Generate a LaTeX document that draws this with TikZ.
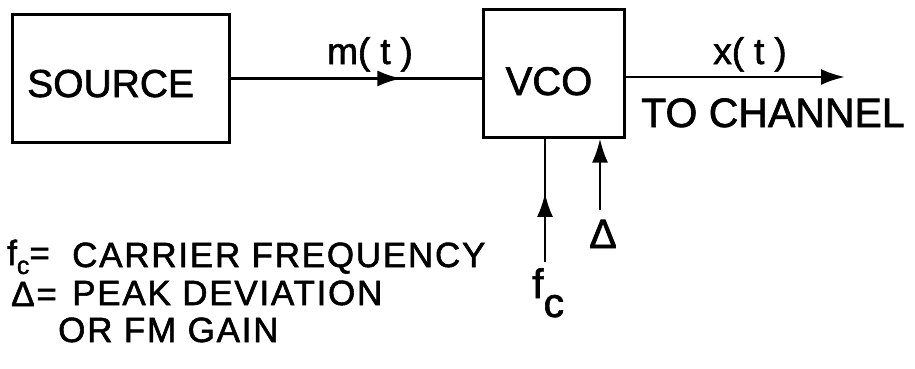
\documentclass[tikz,border=0pt]{standalone}
\usepackage{fontspec}
\setmainfont{Liberation Sans}[BoldFont=Liberation Sans, BoldFeatures={FakeBold=1.6}]
\usetikzlibrary{arrows.meta,decorations.markings}
\begin{document}
\begin{tikzpicture}[x=1pt,y=-1pt,
  box/.style={draw, line width=3pt, inner sep=0pt},
  wire/.style={line width=2.8pt},
  tipend/.style={-{Latex[length=24pt,width=16pt]}},
  midtip/.style={postaction={decorate},decoration={markings,mark=at position #1 with {\arrow{Latex[length=24pt,width=16pt]}}}},
  lbl/.style={inner sep=0pt, font=\bfseries\fontsize{37}{40}\selectfont},
  big/.style={inner sep=0pt, font=\bfseries\fontsize{41}{46}\selectfont},
  leg/.style={inner sep=0pt, anchor=base west, font=\bfseries\fontsize{35}{40}\selectfont\addfontfeature{LetterSpace=5}}
]
\useasboundingbox (0,0) rectangle (915,369);

% blocks
\node[box, minimum width=217pt, minimum height=127pt] (src) at (120.5,78.5) {};
\node[inner sep=0pt, anchor=base west, font=\bfseries\fontsize{39}{44}\selectfont] (srct) at (27,97) {SOURCE};
\node[box, minimum width=141pt, minimum height=127pt] (vco) at (553.5,73.5) {};
\node[inner sep=0pt, anchor=base, font=\bfseries\fontsize{40}{44}\selectfont] (vcot) at (549,95) {VCO};

% connectors
\coordinate (out) at (845,77);
\coordinate (fcs) at (545,262);
\coordinate (ds) at (600,210);
\draw[wire, midtip=0.681] (src.east) -- (src.east -| vco.west);
\draw[wire, tipend] (vco.east |- out) -- (out);
\draw[wire, midtip=0.56] (fcs) -- (fcs |- vco.south);
\draw[wire, tipend] (ds) -- (ds |- vco.south);

% labels
\node[lbl, anchor=base] (mt) at (370,64) {m(\hspace{10pt}t\hspace{10pt})};
\node[lbl, anchor=base] (xt) at (750,64) {x(\hspace{10pt}t\hspace{10pt})};
\node[big, anchor=base west] (tc) at (641,127) {TO CHANNEL};
\node[big, anchor=base] (dl) at (603,248) {Δ};
\node[big, anchor=base west] (fcl) at (532,298) {f\raisebox{-19pt}{c}};

% legend
\node[leg] (l1a) at (7,265) {f\raisebox{-9pt}{\fontsize{25}{28}\selectfont c}=};
\node[leg] (l1b) at (72,267) {CARRIER FREQUENCY};
\node[leg] (l2a) at (11,306) {Δ=};
\node[leg] (l2b) at (72,305) {PEAK DEVIATION};
\node[leg] (l3) at (58,342) {OR FM GAIN};
\end{tikzpicture}
\end{document}
